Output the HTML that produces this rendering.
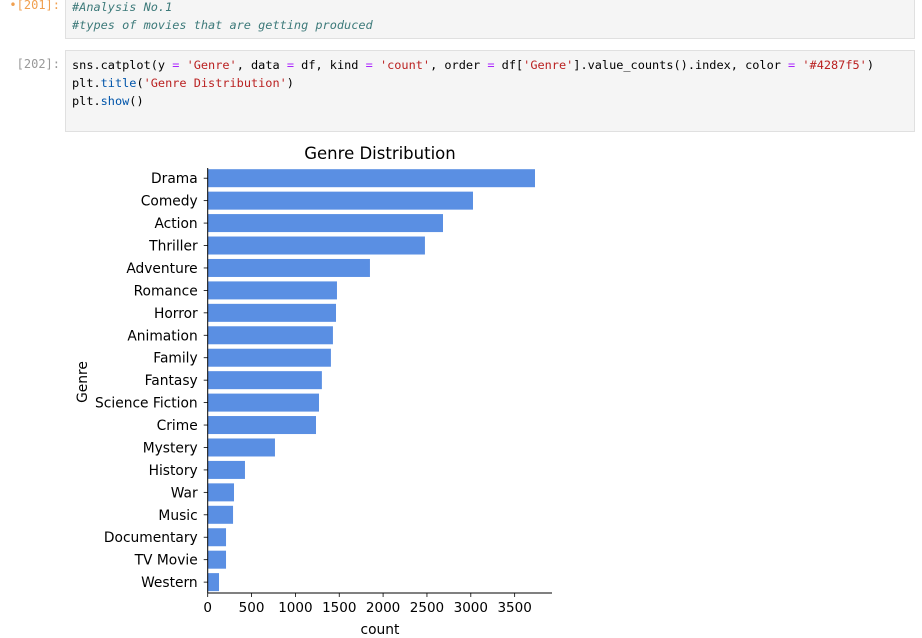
<!DOCTYPE html>
<html><head><meta charset="utf-8"><style>
body{margin:0;width:922px;height:638px;background:#fff;position:relative;overflow:hidden;font-family:"DejaVu Sans Mono","Liberation Mono",monospace;}
.cell{position:absolute;left:65px;width:850px;background:#f5f5f5;border:1px solid #e0e0e0;box-sizing:border-box;font-size:11.9px;line-height:18px;padding:0 6px;}
.prompt{position:absolute;font-size:12px;color:#999;right:862px;}
.cm{color:#3d7a7a;font-style:italic}.s{color:#ba2121}.f{color:#0055aa}.o{color:#aa22ff}
svg text{font-family:"DejaVu Sans","Liberation Sans",sans-serif;}
</style></head><body>
<div class="prompt" style="top:-2px;color:#f0a050">•[201]:</div>
<div class="cell" style="top:-3px;height:42px;padding-top:0"><span class="cm">#Analysis No.1</span><br><span class="cm">#types of movies that are getting produced</span></div>
<div class="prompt" style="top:57px">[202]:</div>
<div class="cell" style="top:50px;height:82px;padding-top:5px">sns.catplot(y <span class="o">=</span> <span class="s">'Genre'</span>, data <span class="o">=</span> df, kind <span class="o">=</span> <span class="s">'count'</span>, order <span class="o">=</span> df[<span class="s">'Genre'</span>].value_counts().index, color <span class="o">=</span> <span class="s">'#4287f5'</span>)<br>plt.<span class="f">title</span>(<span class="s">'Genre Distribution'</span>)<br>plt.<span class="f">show</span>()</div>
<svg id="chart" width="922" height="638" style="position:absolute;left:0;top:0"></svg>
<script>
const categories=["Drama","Comedy","Action","Thriller","Adventure","Romance","Horror","Animation","Family","Fantasy","Science Fiction","Crime","Mystery","History","War","Music","Documentary","TV Movie","Western"];
const counts=[3732,3025,2683,2477,1850,1474,1463,1428,1405,1302,1269,1235,767,425,300,289,209,209,129];
const xTicks=[0,500,1000,1500,2000,2500,3000,3500];
const svg=document.getElementById('chart');const NS='http://www.w3.org/2000/svg';
function mk(t,a){const e=document.createElementNS(NS,t);for(const k in a)e.setAttribute(k,a[k]);svg.appendChild(e);return e;}
const x0=207.7,k=0.0877,top0=168,step=22.44;
const xs=v=>x0+v*k;const yc=i=>top0+10.2+i*step;
categories.forEach((c,i)=>{
 const r=mk('rect',{x:x0,y:yc(i)-9,width:xs(counts[i])-x0,height:18,fill:'#5a8fe3'});
 
 
 mk('line',{x1:x0-4,x2:x0,y1:yc(i),y2:yc(i),stroke:'#000','stroke-width':0.8});
 const t=mk('text',{x:x0-10,y:yc(i)+5,'text-anchor':'end','font-size':13.8});t.textContent=c;
 
 
});
xTicks.forEach(v=>{
 mk('line',{x1:xs(v),x2:xs(v),y1:593,y2:597,stroke:'#000','stroke-width':0.8});
 const t=mk('text',{x:xs(v),y:612,'text-anchor':'middle','font-size':13.5});t.textContent=v;
 
 
});
mk('line',{x1:x0,x2:x0,y1:top0,y2:593,stroke:'#000','stroke-width':1});
mk('line',{x1:x0,x2:552,y1:593,y2:593,stroke:'#000','stroke-width':1});
let t=mk('text',{x:380,y:159,'text-anchor':'middle','font-size':16.5});t.textContent='Genre Distribution';

t=mk('text',{x:380,y:634,'text-anchor':'middle','font-size':13.8});t.textContent='count';

t=mk('text',{x:87,y:382,'text-anchor':'middle','font-size':13.8,transform:'rotate(-90 87 382)'});t.textContent='Genre';

</script>
</body></html>
